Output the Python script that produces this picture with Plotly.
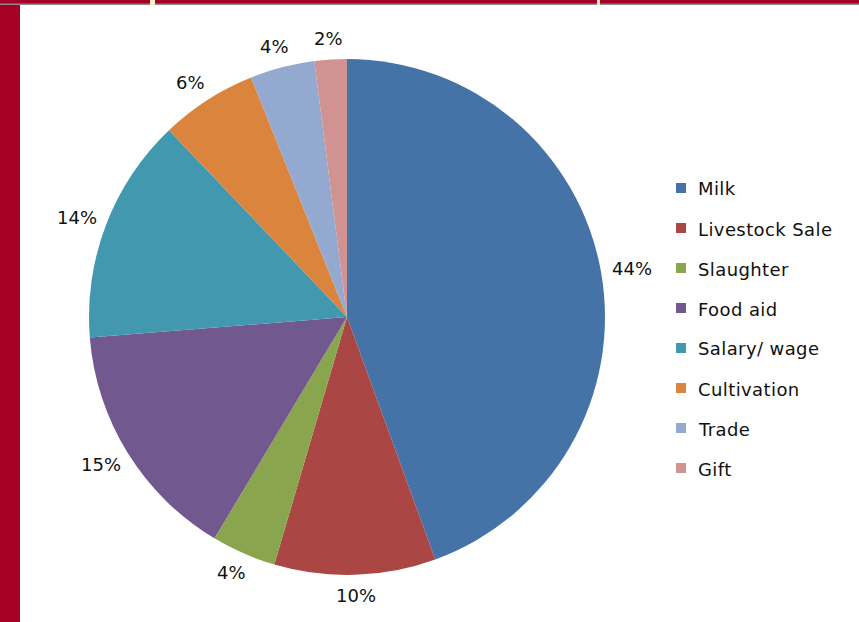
import math
import plotly.graph_objects as go

labels = ["Milk", "Livestock Sale", "Slaughter", "Food aid", "Salary/ wage",
          "Cultivation", "Trade", "Gift"]
values = [44, 10, 4, 15, 14, 6, 4, 2]
colors = ["#4572A7", "#AA4643", "#89A54E", "#71588F", "#4198AF",
          "#DB843D", "#93A9CF", "#D19392"]

W, H = 859, 622
cx, cy, r = 347, 317, 258
FONT = "DejaVu Sans, sans-serif"
TXT = "#111111"

fig = go.Figure(go.Pie(
    labels=labels, values=values, sort=False, direction="clockwise", rotation=0,
    marker=dict(colors=colors, line=dict(width=0)),
    textinfo="none",
    domain=dict(x=[(cx - r) / W, (cx + r) / W], y=[(H - cy - r) / H, (H - cy + r) / H]),
    showlegend=False,
))

annotations = []
# percentage labels placed just outside each slice (positions derived from the data)
total = sum(values)
cum = 0.0
gap = 11
for v in values:
    mid = (cum + v / 2) / total * 2 * math.pi
    cum += v
    s, c = math.sin(mid), math.cos(mid)
    px = cx + (r + gap) * s
    py = cy - (r + gap) * c
    tw, th = 40, 20
    lx = px + tw / 2 * s
    ly = py - th / 2 * c
    annotations.append(dict(
        x=lx / W, y=1 - ly / H, xref="paper", yref="paper",
        text=f"{round(v / total * 100)}%", showarrow=False,
        xanchor="center", yanchor="middle",
        font=dict(family=FONT, size=18, color=TXT)))

# legend
shapes = []
leg_x, leg_y0, leg_dy = 676, 188, 40
for i, (lab, col) in enumerate(zip(labels, colors)):
    yy = leg_y0 + i * leg_dy
    shapes.append(dict(type="rect", xref="paper", yref="paper",
                       x0=leg_x / W, x1=(leg_x + 10) / W,
                       y0=1 - (yy + 5) / H, y1=1 - (yy - 5) / H,
                       fillcolor=col, line=dict(width=0)))
    annotations.append(dict(
        x=(leg_x + 20) / W, y=1 - (yy + 1) / H, xref="paper", yref="paper",
        text=f'<span style="letter-spacing:0.4px">{lab}</span>',
        showarrow=False, xanchor="left", yanchor="middle",
        font=dict(family=FONT, size=18, color=TXT)))

# slide frame
shapes += [
    dict(type="rect", xref="paper", yref="paper", x0=0, x1=20 / W, y0=0, y1=1,
         fillcolor="#A50026", line=dict(width=0), layer="above"),
    dict(type="rect", xref="paper", yref="paper", x0=0, x1=1, y0=1 - 5 / H, y1=1 - 3 / H,
         fillcolor="#8c8c8c", line=dict(width=0)),
    dict(type="rect", xref="paper", yref="paper", x0=0, x1=1, y0=1 - 3.5 / H, y1=1,
         fillcolor="#A50026", line=dict(width=0)),
    dict(type="rect", xref="paper", yref="paper", x0=150 / W, x1=155 / W, y0=1 - 5 / H, y1=1,
         fillcolor="#FFF2C0", line=dict(width=0)),
    dict(type="rect", xref="paper", yref="paper", x0=597 / W, x1=600 / W, y0=1 - 5 / H, y1=1,
         fillcolor="#FFF2C0", line=dict(width=0)),
]

fig.update_layout(
    width=W, height=H, margin=dict(l=0, r=0, t=0, b=0),
    paper_bgcolor="white",
    shapes=shapes, annotations=annotations,
)

fig.write_html("out.html")
